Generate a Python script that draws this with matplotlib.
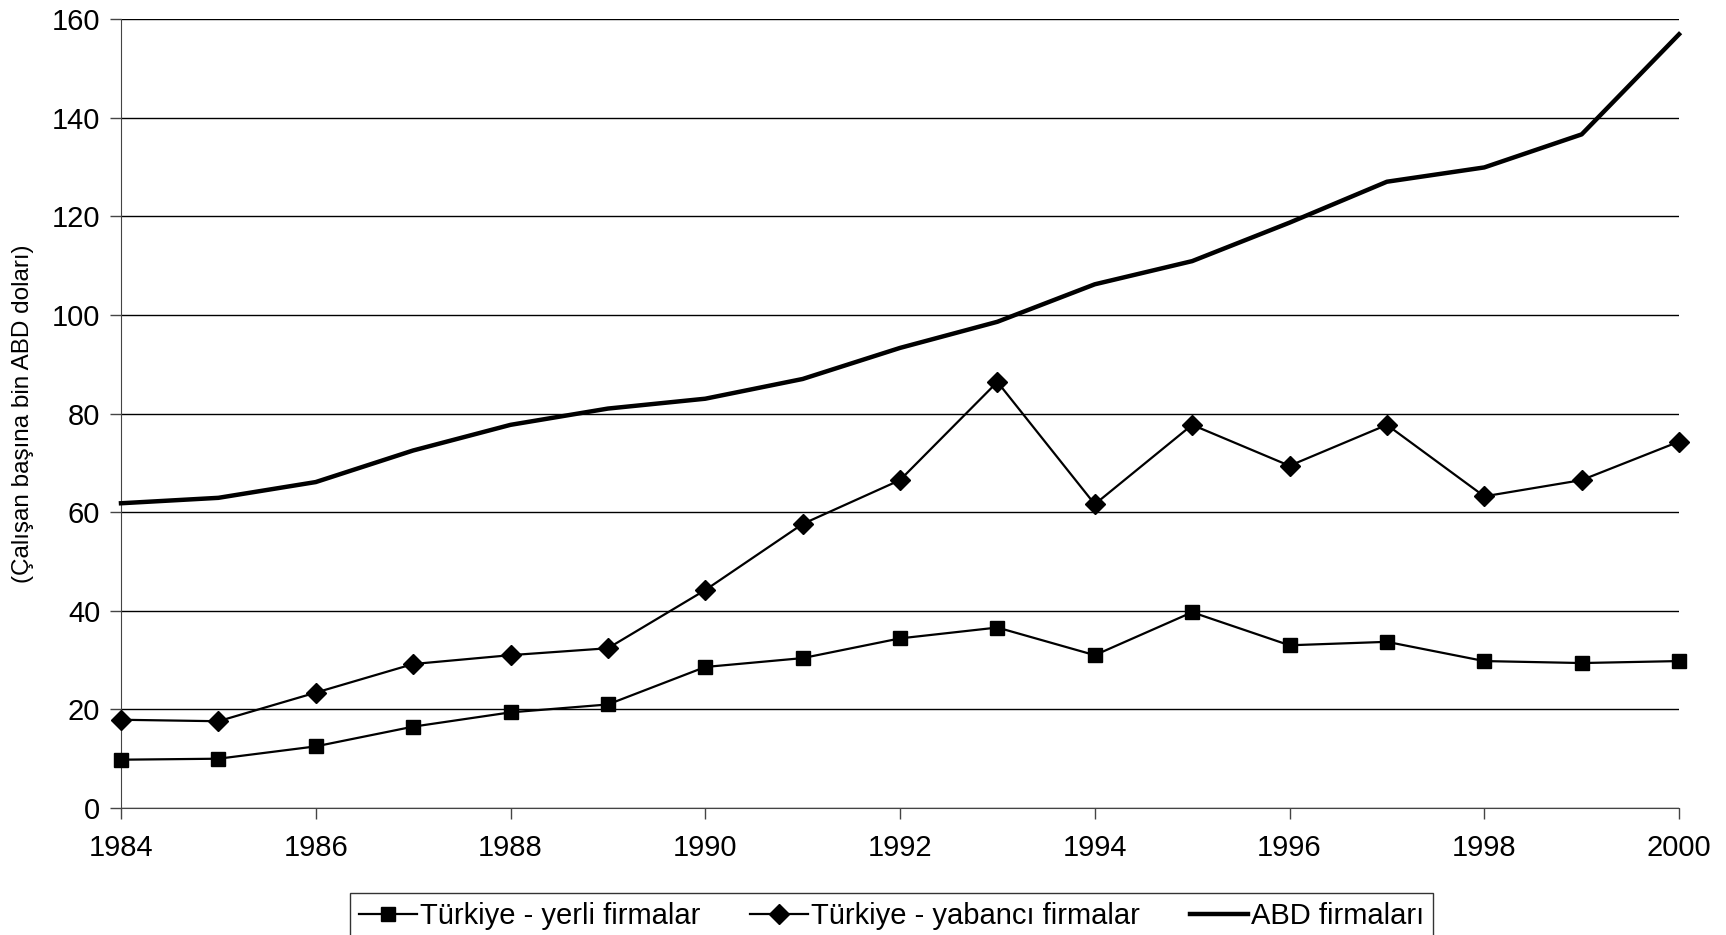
import numpy as np
import matplotlib as mpl
mpl.use('Agg')
import matplotlib.pyplot as plt

plt.rcParams['font.family'] = ['Liberation Sans', 'DejaVu Sans']

years = list(range(1984, 2001))
yerli = [9.8, 10.0, 12.5, 16.5, 19.4, 21.0, 28.6, 30.4, 34.4, 36.6,
         31.0, 39.7, 33.0, 33.7, 29.8, 29.4, 29.8]
yabanci = [17.9, 17.6, 23.4, 29.2, 31.0, 32.4, 44.2, 57.6, 66.5, 86.4,
           61.6, 77.7, 69.4, 77.7, 63.2, 66.5, 74.3]
abd = [61.8, 62.9, 66.1, 72.5, 77.7, 81.0, 83.0, 87.0, 93.3, 98.6,
       106.2, 110.9, 118.7, 127.0, 129.9, 136.6, 156.9]
labels = ['Türkiye - yerli firmalar', 'Türkiye - yabancı firmalar', 'ABD firmaları']

fig = plt.figure(figsize=(17.26, 9.35), dpi=100)
ax = fig.add_axes([0.0701, 0.1358, 0.9027, 0.8439])

ax.plot(years, yerli, color='black', lw=1.6, marker='s', ms=10, label=labels[0], clip_on=False, zorder=3)
ax.plot(years, yabanci, color='black', lw=1.6, marker='D', ms=10, label=labels[1], clip_on=False, zorder=3)
ax.plot(years, abd, color='black', lw=3.2, label=labels[2], clip_on=False, zorder=3)

ax.set_xlim(1984, 2000)
ax.set_ylim(0, 160)
ax.set_xticks(range(1984, 2001, 2))
ax.set_yticks(range(0, 161, 20))
ax.yaxis.grid(True, color='black', lw=1)
ax.set_axisbelow(True)
for s in ['top', 'right']:
    ax.spines[s].set_visible(False)
for s in ['left', 'bottom']:
    ax.spines[s].set_color('#444444')
ax.tick_params(axis='both', direction='out', length=8, width=1, color='#444444', labelsize=21)
ax.tick_params(axis='x', pad=11)
ax.tick_params(axis='y', pad=7)
ax.set_ylabel('(Çalışan başına bin ABD doları)', fontsize=17.5)
ax.yaxis.set_label_coords(-0.056, 0.5)

leg = fig.legend(loc='upper left', bbox_to_anchor=(350 / 1726, 1 - 893 / 935), ncol=3,
                 fontsize=21, frameon=True, fancybox=False, edgecolor='black',
                 handlelength=2.0, handletextpad=0.1, columnspacing=1.7,
                 borderpad=0.3, borderaxespad=0)
leg.get_frame().set_linewidth(1)

fig.savefig('out.png', dpi=100)
